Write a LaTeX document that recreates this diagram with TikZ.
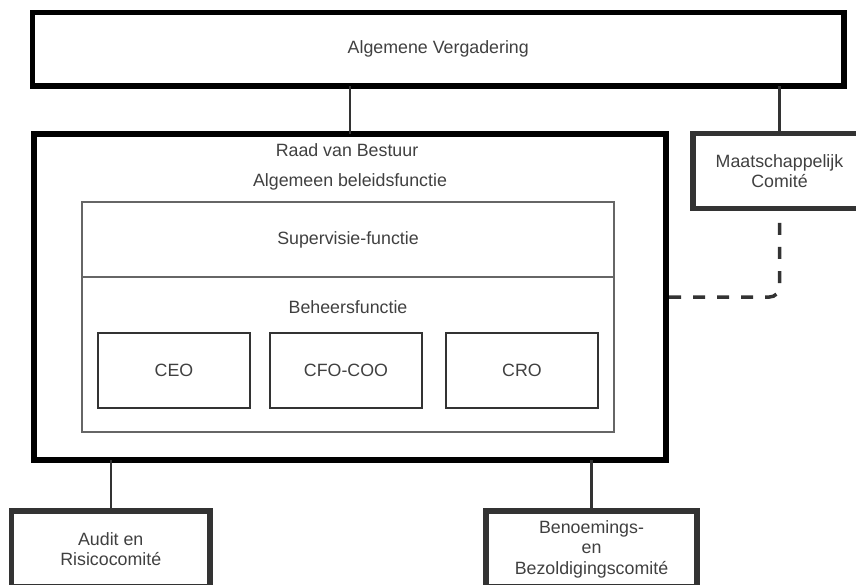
\documentclass[tikz,border=0pt]{standalone}
\usepackage{fontspec}
\setmainfont{Liberation Sans}
\usetikzlibrary{positioning}
\definecolor{txtgrey}{rgb}{0.25, 0.25, 0.25}
\definecolor{boxgrey}{rgb}{0.2, 0.2, 0.2}
\definecolor{innergrey}{rgb}{0.4, 0.4, 0.4}

\begin{document}
\begin{tikzpicture}[x=1pt, y=-1pt, font=\fontsize{17.8}{20.5}\selectfont, text=txtgrey,
        thickbox/.style={draw, line width=5.5pt, outer sep=0pt, inner sep=0pt, align=center},
        funcbox/.style={draw=boxgrey, line width=2.5pt, minimum width=152pt, minimum height=75pt, outer sep=0pt},
        link/.style={draw=boxgrey, line width=2.5pt}]
        \path [use as bounding box, clip] (0,0) rectangle (856,585);

        \node [thickbox, minimum width=811.5pt, minimum height=73.5pt] (AV) at (438.25,49.25) {Algemene Vergadering};

        \node [thickbox, minimum width=632pt, minimum height=326pt] (RvB) at (350,297) {};
        \node (RvBtitle) at (347,150) {Raad van Bestuur};
        \node (RvBsub) at (350,182) {Algemeen beleidsfunctie};

        \node [draw=innergrey, line width=2pt, minimum width=532pt, minimum height=230pt, outer sep=0pt] (Func) at (348,317) {};
        \coordinate (split) at (0,277);
        \draw [innergrey, line width=2pt] (Func.west |- split) -- (Func.east |- split);
        \node (Sup) at (348,240) {Supervisie-functie};
        \node (Beh) at (348,307) {Beheersfunctie};

        \node [funcbox] (CEO) at (174,370.5) {CEO};
        \node [funcbox, right=20pt of CEO] (CFO) {CFO-COO};
        \node [funcbox, right=24pt of CFO] (CRO) {CRO};

        \node [thickbox, draw=boxgrey, minimum width=173pt, minimum height=75pt] (MC) at (779.5,171) {Maatschappelijk\\Comit\'e};
        \node [thickbox, draw=boxgrey, minimum width=198.5pt, minimum height=76pt] (ARC) at (110.75,549) {Audit en\\Risicocomit\'e};
        \node [thickbox, draw=boxgrey, minimum width=211pt, minimum height=76pt] (BBC) at (591.5,549) {Benoemings-\\en\\Bezoldigingscomit\'e};

        % connectors
        \draw [link] (RvB.north) -- (RvB.north |- AV.south);
        \draw [link] (MC.north) -- (MC.north |- AV.south);
        \draw [link] (ARC.north) -- (ARC.north |- RvB.south);
        \draw [link] (BBC.north) -- (BBC.north |- RvB.south);
        \draw [boxgrey, line width=3.5pt, dash pattern=on 12pt off 12pt, dash phase=9.5pt, rounded corners=10pt] (MC.south) |- (RvB.east);
\end{tikzpicture}
\end{document}
